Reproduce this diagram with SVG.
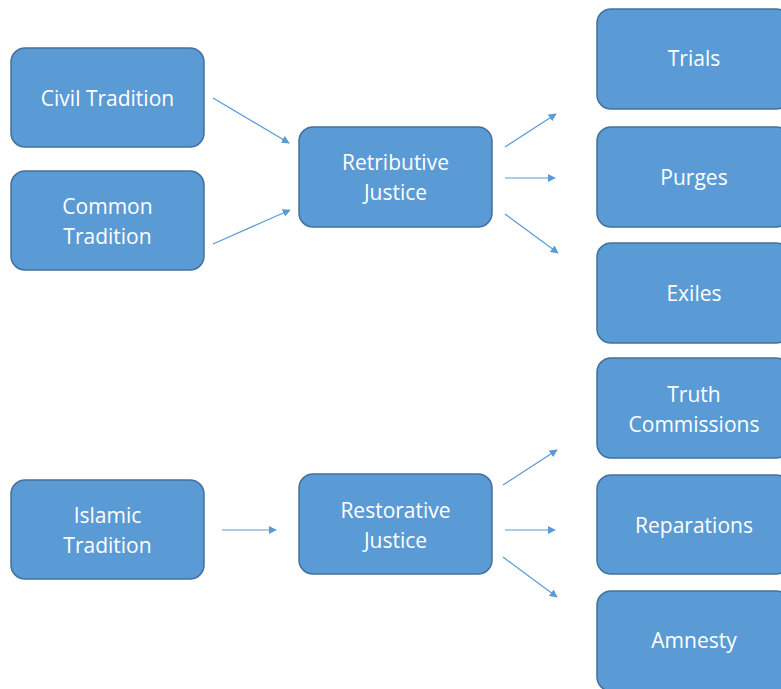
<svg xmlns="http://www.w3.org/2000/svg" width="781" height="689" viewBox="0 0 781 689">
<style>
.box{fill:#5B9BD5;stroke:#41719C;stroke-width:1.5}
.t{fill:#fff;font-family:"Open Sans","Liberation Sans",sans-serif;font-size:21px;text-anchor:middle}
.c{stroke:#5B9BD5;stroke-width:1.2;fill:none;marker-end:url(#ah)}
</style>
<defs>
<marker id="ah" viewBox="0 0 10 10" refX="9" refY="5" markerWidth="8" markerHeight="8" markerUnits="userSpaceOnUse" orient="auto">
<path d="M0,0 L10,5 L0,10 z" fill="#5B9BD5"/>
</marker>
</defs>
<rect width="781" height="689" fill="#fff"/>
<g id="connectors">
<line class="c" x1="213" y1="98" x2="289" y2="143"/>
<line class="c" x1="213" y1="244" x2="290" y2="210"/>
<line class="c" x1="505" y1="147" x2="556" y2="114"/>
<line class="c" x1="505" y1="178" x2="555" y2="178"/>
<line class="c" x1="505" y1="214" x2="558" y2="253"/>
<line class="c" x1="222" y1="530" x2="276" y2="530"/>
<line class="c" x1="503" y1="485" x2="557" y2="450"/>
<line class="c" x1="505" y1="530" x2="555" y2="530"/>
<line class="c" x1="503" y1="557" x2="557" y2="597"/>
</g>
<g id="civil"><rect class="box" x="11" y="48" width="193" height="99" rx="14"/><text class="t" x="107.5" y="106">Civil Tradition</text></g>
<g id="common"><rect class="box" x="11" y="171" width="193" height="99" rx="14"/><text class="t" x="107.5" y="214">Common</text><text class="t" x="107.5" y="244">Tradition</text></g>
<g id="islamic"><rect class="box" x="11" y="480" width="193" height="99" rx="14"/><text class="t" x="107.5" y="523">Islamic</text><text class="t" x="107.5" y="553">Tradition</text></g>
<g id="retributive"><rect class="box" x="299" y="127" width="193" height="100" rx="14"/><text class="t" x="395.5" y="170">Retributive</text><text class="t" x="395.5" y="200">Justice</text></g>
<g id="restorative"><rect class="box" x="299" y="474" width="193" height="100" rx="14"/><text class="t" x="395.5" y="518">Restorative</text><text class="t" x="395.5" y="548">Justice</text></g>
<g id="trials"><rect class="box" x="597" y="9" width="193" height="100" rx="14"/><text class="t" x="694" y="66">Trials</text></g>
<g id="purges"><rect class="box" x="597" y="127" width="193" height="100" rx="14"/><text class="t" x="694" y="185">Purges</text></g>
<g id="exiles"><rect class="box" x="597" y="243" width="193" height="100" rx="14"/><text class="t" x="694" y="301">Exiles</text></g>
<g id="truth"><rect class="box" x="597" y="358" width="193" height="100" rx="14"/><text class="t" x="694" y="402">Truth</text><text class="t" x="694" y="432">Commissions</text></g>
<g id="reparations"><rect class="box" x="597" y="475" width="193" height="99" rx="14"/><text class="t" x="694" y="533">Reparations</text></g>
<g id="amnesty"><rect class="box" x="597" y="591" width="193" height="100" rx="14"/><text class="t" x="694" y="648">Amnesty</text></g>
</svg>
